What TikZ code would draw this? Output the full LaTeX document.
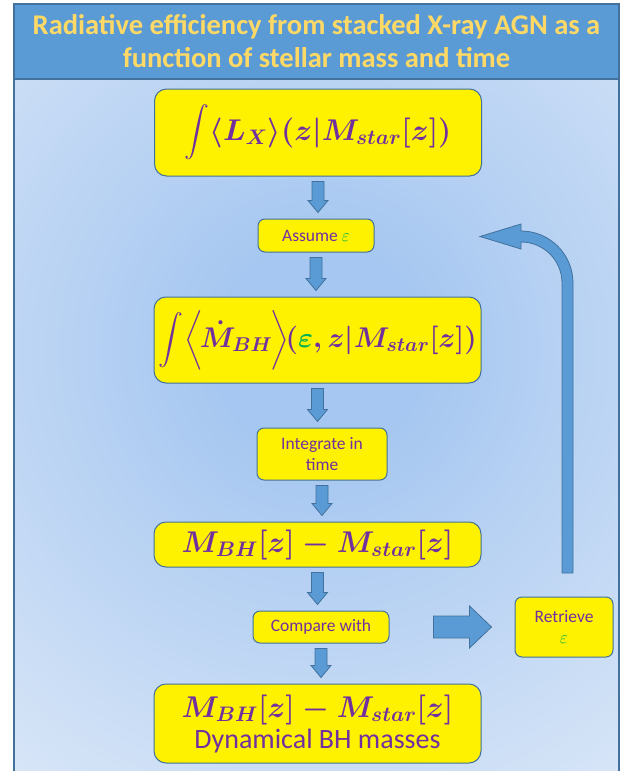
\RequirePackage{fix-cm}
\documentclass[tikz,border=0pt]{standalone}
\usepackage{exscale}
\usepackage[no-math]{fontspec}
\setmainfont{Carlito}
\usetikzlibrary{calc}
\definecolor{band}{HTML}{5B9BD5}
\definecolor{edge}{HTML}{41719C}
\definecolor{titlegold}{HTML}{FFD966}
\definecolor{purp}{HTML}{7030A0}
\definecolor{epsg}{HTML}{00B050}
\definecolor{bgout}{HTML}{DFEAF8}
\definecolor{bgin}{HTML}{A6C7F1}
\pgfdeclareradialshading{bgshade}{\pgfpoint{0bp}{0bp}}{color(0bp)=(bgin); color(6bp)=(bgin); color(34bp)=(bgout); color(50bp)=(bgout)}
\tikzset{
  bigbox/.style={draw=edge, line width=1pt, fill=yellow, rounded corners=12pt, minimum width=327pt, text=purp, align=center, inner sep=0pt},
  smallbox/.style={draw=edge, line width=1pt, fill=yellow, rounded corners=7pt, text=purp, align=center, inner sep=0pt, font=\fontsize{17.5}{21}\selectfont},
  blockarrow/.style={fill=band, draw=edge, line width=0.8pt},
  downarrow/.style={blockarrow, to path={let \p1=(\tikztostart), \p2=(\tikztotarget) in
    (\x1-6pt,\y1-5pt) -- (\x1+6pt,\y1-5pt) -- (\x1+6pt,\y2+18pt) -- (\x1+10pt,\y2+18pt) -- (\x1,\y2+6pt) -- (\x1-10pt,\y2+18pt) -- (\x1-6pt,\y2+18pt) -- cycle}},
  rightarrow/.style={blockarrow, to path={let \p1=(\tikztostart), \p2=(\tikztotarget) in
    (\x1+44pt,\y1+11pt) -- (\x2-45pt,\y1+11pt) -- (\x2-45pt,\y1+21pt) -- (\x2-23pt,\y1) -- (\x2-45pt,\y1-21pt) -- (\x2-45pt,\y1-11pt) -- (\x1+44pt,\y1-11pt) -- cycle}},
  mathtext/.style={font=\fontsize{30}{36}\selectfont\boldmath},
}
\newcommand{\eps}{\textcolor{epsg}{\varepsilon}}
\begin{document}
\begin{tikzpicture}[x=1pt,y=-1pt]
\useasboundingbox (0,0) rectangle (626,771);
% background
\begin{scope}
  \clip (14,79) rectangle (619,771);
  \shade[shading=bgshade] (320-430,350-430) rectangle (320+430,350+430);
\end{scope}
\fill[band] (14,4) rectangle (619,79);
\draw[edge, line width=1.2pt] (14,771) -- (14,4) -- (619,4) -- (619,771);
\draw[edge, line width=1.2pt] (14,79) -- (619,79);
\node[text=titlegold, font=\bfseries\fontsize{28.5}{33}\selectfont, align=center] (title) at (316.5,41)
  {Radiative efficiency from stacked X-ray AGN as a\\function of stellar mass and time};
% boxes
\node[bigbox, minimum height=87pt, mathtext] (lx) at (318,132.5)
  {$\displaystyle\int\langle L_X\rangle(z|M_{star}[z])$};
\node[smallbox, minimum width=116pt, minimum height=33pt] (assume) at (316,235.5) {Assume $\eps$};
\node[bigbox, minimum height=86pt, mathtext, font=\fontsize{28.5}{34}\selectfont\boldmath] (mdot) at (317.5,340)
  {$\displaystyle\int\mkern-2mu\Big\langle\mkern-2mu\dot M_{BH}\mkern-1mu\Big\rangle\mkern-2mu(\eps,z|M_{star}[z])$};
\node[smallbox, minimum width=130pt, minimum height=52pt] (integ) at (322,454) {Integrate in\\time};
\node[bigbox, minimum height=45pt, mathtext] (mbh) at (317.5,544.5) {$M_{BH}[z]-M_{star}[z]$};
\node[smallbox, minimum width=136pt, minimum height=32pt] (compare) at (321,627) {Compare with};
\node[bigbox, minimum height=79pt, mathtext] (dyn) at (317.5,723.5)
  {$M_{BH}[z]-M_{star}[z]$\\[-5pt]{\fontsize{28}{30}\selectfont\unboldmath Dynamical BH masses}};
\node[smallbox, minimum width=98pt, minimum height=60pt] (retrieve) at (564,627) {Retrieve\\$\eps$};
% arrows
\draw[downarrow] (lx.south) to (assume.north);
\draw[downarrow] (assume.south) to (mdot.north);
\draw[downarrow] (mdot.south) to (integ.north);
\draw[downarrow] (integ.south) to (mbh.north);
\draw[downarrow] (mbh.south) to (compare.north);
\draw[downarrow] (compare.south) to (dyn.north);
\draw[rightarrow] (compare.east) to (retrieve.west);
\coordinate (loopfoot) at (567.5,573);
\coordinate (looptip) at (480,236.5);
\draw[blockarrow] ([xshift=-5.5pt]loopfoot) -- ([xshift=5.5pt]loopfoot) -- (573,283)
  arc[start angle=0,end angle=-90,radius=52] -- (521,224) -- (looptip) -- (521,249) -- (521,242)
  arc[start angle=-90,end angle=0,radius=41] -- cycle;
\end{tikzpicture}
\end{document}
